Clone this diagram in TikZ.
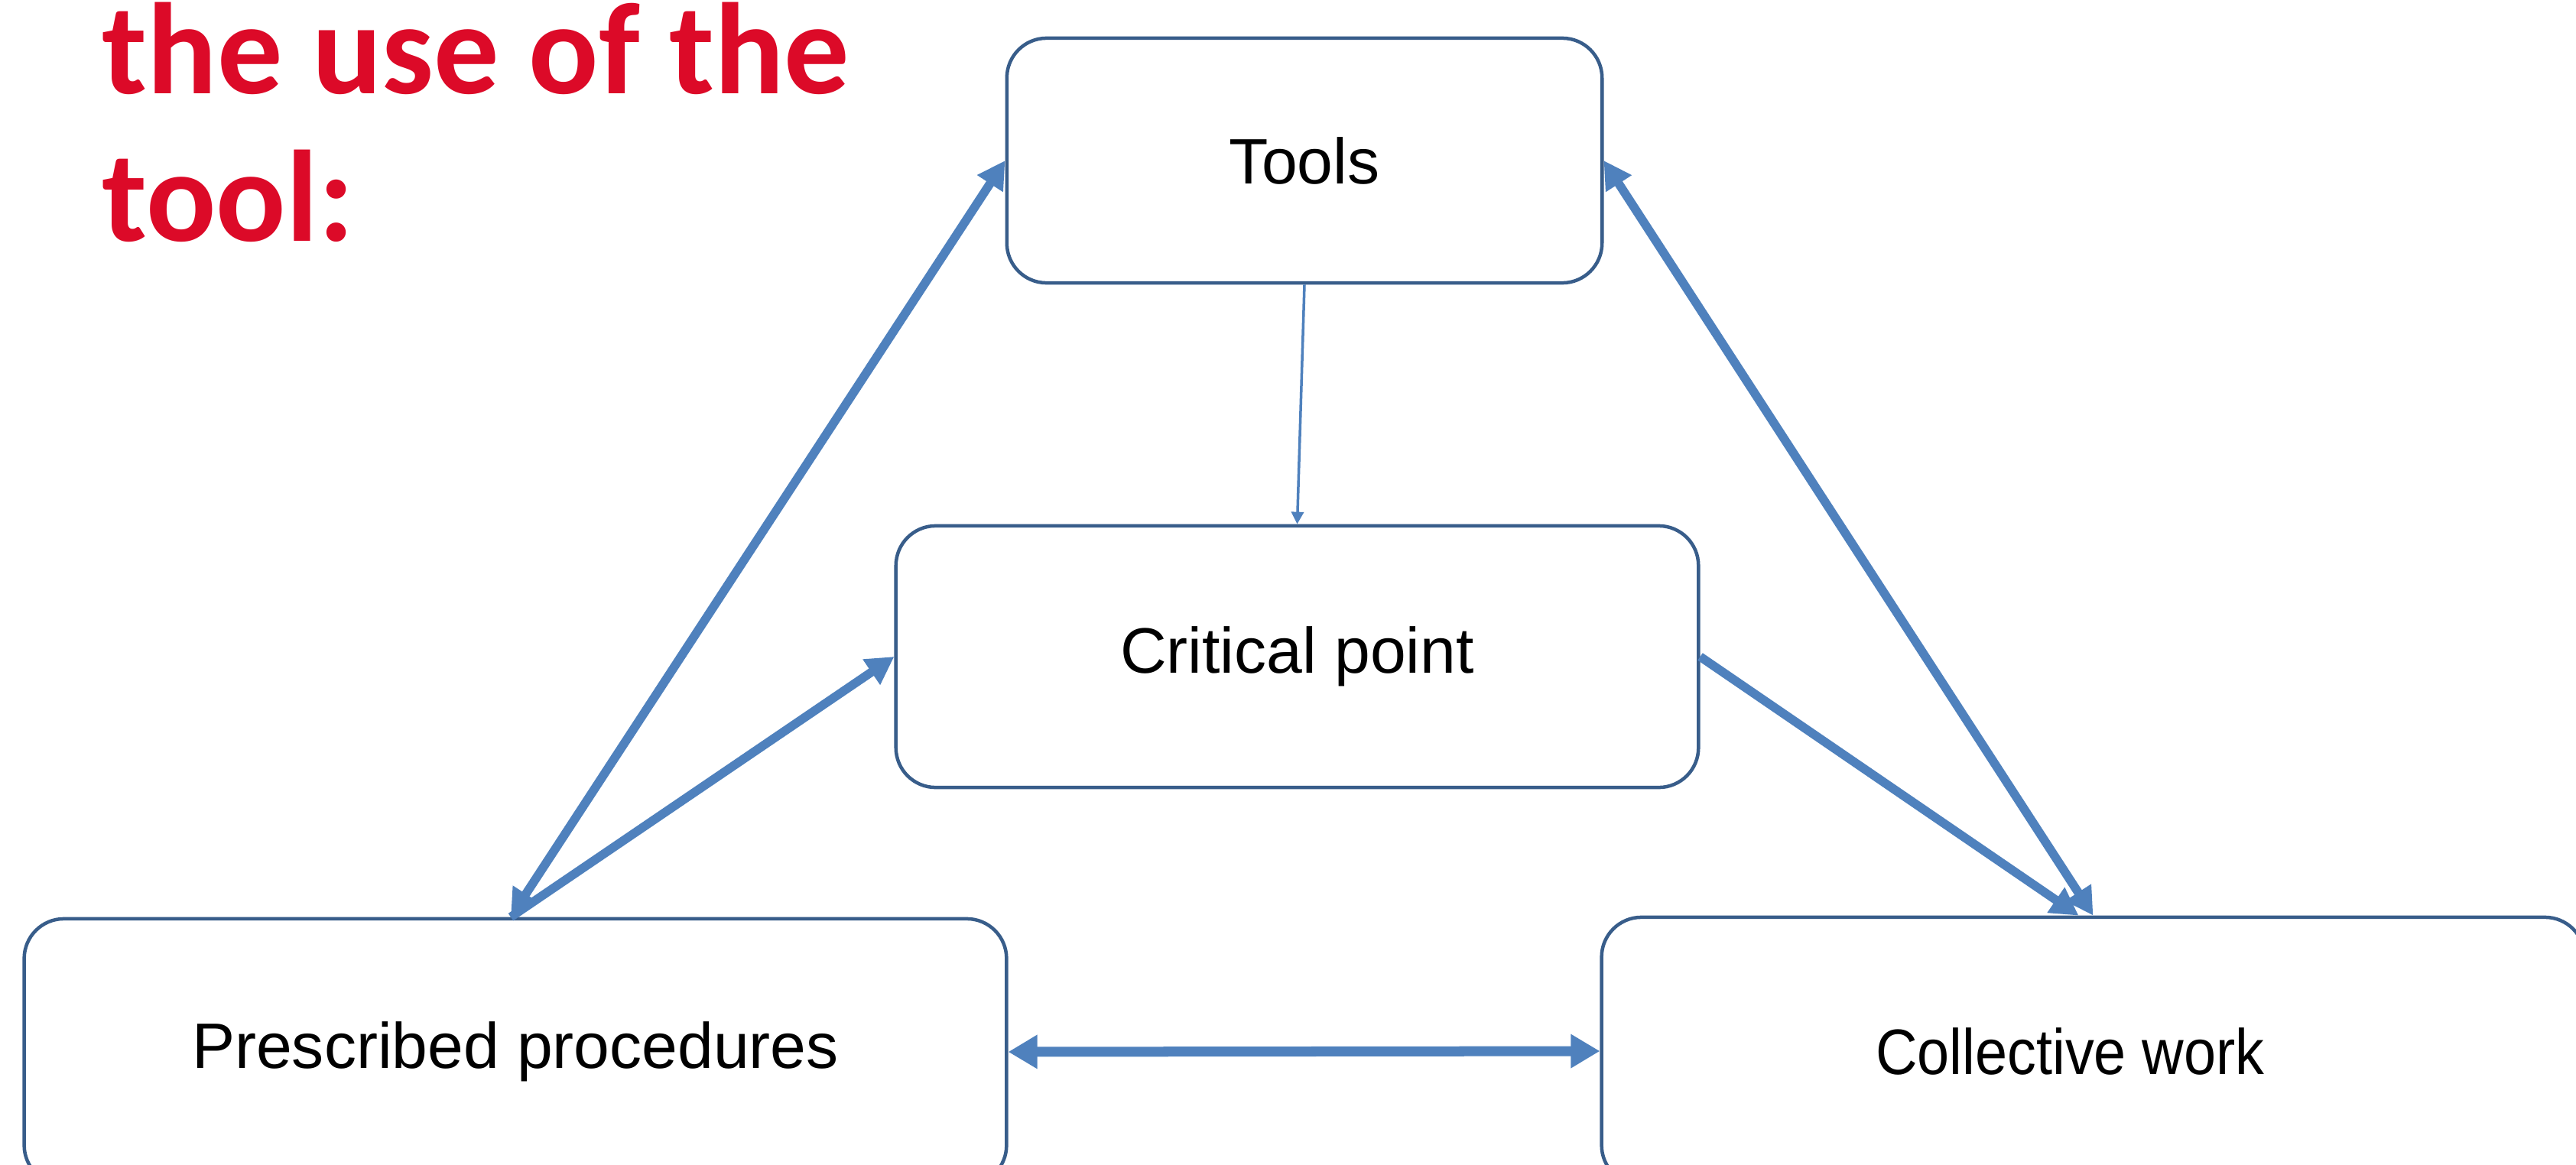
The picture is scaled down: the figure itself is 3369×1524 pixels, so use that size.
\documentclass[tikz,border=0pt]{standalone}
\usepackage{fontspec}
\setmainfont{Liberation Sans}
\newfontfamily\titlefont{Carlito}
\usetikzlibrary{arrows.meta,calc}
\definecolor{boxline}{RGB}{56,93,138}
\definecolor{arrowblue}{RGB}{79,129,189}
\definecolor{titlered}{RGB}{220,10,40}
\begin{document}
\begin{tikzpicture}[x=0.01cm,y=-0.01cm,
  box/.style={draw=boxline, line width=0.045cm, rounded corners=0.52cm, fill=white,
    inner sep=0pt, font=\fontsize{23.9pt}{28pt}\selectfont},
  link/.style={draw=arrowblue, line width=0.115cm,
    >={Triangle[length=0.36cm,width=0.38cm]}},
  thinlink/.style={draw=arrowblue, line width=0.035cm,
    >={Triangle[length=0.16cm,width=0.16cm]}},
  widelink/.style={draw=arrowblue, line width=0.13cm,
    >={Triangle[length=0.38cm,width=0.42cm]}},
  titletext/.style={anchor=base west, inner sep=0pt, text=titlered,
    font=\titlefont\bfseries\fontsize{48.4pt}{55pt}\selectfont}]
\useasboundingbox (0,0) rectangle (3369,1524);
\clip (0,0) rectangle (3369,1524);
\fill[white] (0,0) rectangle (3369,1524);

\node[titletext] (title1) at (133,122) {the use of the};
\node[titletext] (title2) at (133,315) {tool:};

\node[box, minimum width=7.78cm, minimum height=3.2cm] (tools) at (1706,210) {Tools};
\node[box, minimum width=10.49cm, minimum height=3.42cm] (crit) at (1696.5,859) {Critical point};
\node[box, minimum width=12.84cm, minimum height=3.48cm] (pre) at (674,1376) {Prescribed procedures};
\node[box, minimum width=12.85cm, minimum height=3.5cm] (col) at (2737.5,1375)
  {\scalebox{0.9}[1]{Collective work}\hspace*{0.6cm}};

\draw[link, <->] ([xshift=-0.06cm]pre.north) -- (tools.west);
\draw[link, ->] ([xshift=-0.06cm]pre.north) -- (crit.west);
\draw[link, <->] (tools.east) -- (col.north);
\draw[link, ->] (crit.east) -- ([xshift=-0.19cm]col.north);
\draw[thinlink, ->] (tools.south) -- (crit.north);
\draw[widelink, <->] (pre.east) -- (col.west);
\end{tikzpicture}
\end{document}
